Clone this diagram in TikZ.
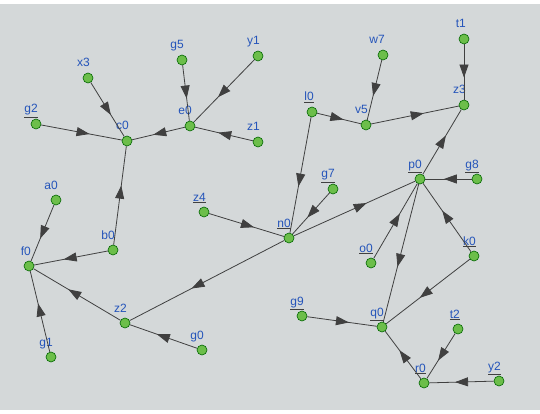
\documentclass[tikz,border=0pt]{standalone}
\usepackage{fontspec}
\setmainfont{Liberation Sans}
\usetikzlibrary{arrows.meta,decorations.markings}
\definecolor{bg}{RGB}{212,216,217}
\definecolor{vgreen}{RGB}{108,190,74}
\definecolor{labblue}{RGB}{36,84,186}
\tikzset{
 vx/.style={circle,fill=vgreen,draw=black!60!green,line width=0.6pt,minimum size=10pt,inner sep=0pt},
 lab/.style={anchor=base east,text=labblue,font=\fontsize{12}{13}\selectfont,inner sep=0pt},
 ed/.style={draw=black!75,line width=0.8pt,postaction={decorate},decoration={markings,mark=at position 0.6 with {\arrow{Triangle[length=13pt,width=9pt]}}}},
}
\newcommand\ul[1]{{\color{black!75}\underline{\textcolor{labblue}{#1}}}}
\newcommand\V[4]{\node[vx] (#1) at (#2,#3) {}; \node[lab] (#1-l) at (#2+2,#3-11) {#4};}
\begin{document}
\begin{tikzpicture}[x=1pt,y=-1pt]
\useasboundingbox (0,0) rectangle (540,414);
\fill[white] (0,0) rectangle (540,414);
\fill[bg] (0,4) rectangle (540,410);
\V{x3}{88}{78}{x3}
\V{g2}{36}{124}{\ul{g2}}
\V{c0}{127}{141}{c0}
\V{g5}{182}{60}{g5}
\V{y1}{258}{56}{y1}
\V{e0}{190}{126}{e0}
\V{z1}{258}{142}{z1}
\V{a0}{56}{200}{a0}
\V{b0}{113}{250}{b0}
\V{f0}{29}{266}{f0}
\V{g1}{51}{357}{g1}
\V{z2}{125}{323}{z2}
\V{g0}{202}{350}{g0}
\V{z4}{204}{212}{\ul{z4}}
\V{n0}{289}{238}{\ul{n0}}
\V{g7}{333}{189}{\ul{g7}}
\V{l0}{312}{112}{\ul{l0}}
\V{v5}{366}{125}{v5}
\V{w7}{383}{55}{w7}
\V{t1}{464}{39}{t1}
\V{z3}{464}{105}{z3}
\V{p0}{420}{179}{\ul{p0}}
\V{g8}{477}{179}{\ul{g8}}
\V{o0}{371}{263}{\ul{o0}}
\V{k0}{474}{256}{\ul{k0}}
\V{g9}{302}{316}{\ul{g9}}
\V{q0}{382}{327}{\ul{q0}}
\V{t2}{458}{329}{\ul{t2}}
\V{r0}{424}{383}{\ul{r0}}
\V{y2}{499}{381}{\ul{y2}}
\draw[ed] (x3) -- (c0);
\draw[ed] (g2) -- (c0);
\draw[ed] (e0) -- (c0);
\draw[ed] (g5) -- (e0);
\draw[ed] (y1) -- (e0);
\draw[ed] (z1) -- (e0);
\draw[ed] (b0) -- (c0);
\draw[ed] (a0) -- (f0);
\draw[ed] (b0) -- (f0);
\draw[ed] (z2) -- (f0);
\draw[ed] (g1) -- (f0);
\draw[ed] (n0) -- (z2);
\draw[ed] (g0) -- (z2);
\draw[ed] (z4) -- (n0);
\draw[ed] (l0) -- (n0);
\draw[ed] (g7) -- (n0);
\draw[ed] (n0) -- (p0);
\draw[ed] (l0) -- (v5);
\draw[ed] (w7) -- (v5);
\draw[ed] (v5) -- (z3);
\draw[ed] (t1) -- (z3);
\draw[ed] (p0) -- (z3);
\draw[ed] (g8) -- (p0);
\draw[ed] (o0) -- (p0);
\draw[ed] (p0) -- (q0);
\draw[ed] (k0) -- (p0);
\draw[ed] (k0) -- (q0);
\draw[ed] (g9) -- (q0);
\draw[ed] (r0) -- (q0);
\draw[ed] (t2) -- (r0);
\draw[ed] (y2) -- (r0);
\end{tikzpicture}
\end{document}
